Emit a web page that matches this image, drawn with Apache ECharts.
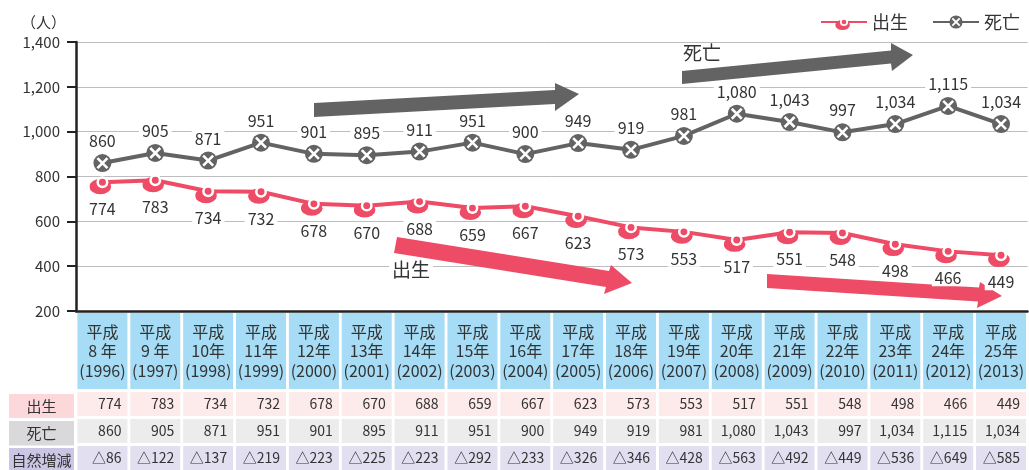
<!DOCTYPE html>
<html lang="ja">
<head>
<meta charset="UTF-8">
<title>出生・死亡の推移</title>
<script src="https://cdn.jsdelivr.net/npm/echarts@6/dist/echarts.min.js"></script>
<style>
  html, body { margin: 0; padding: 0; background: #fff; }
  #chart { width: 1029px; height: 470px; }
</style>
</head>
<body>
<div id="chart"></div>
<script>
// 和暦・西暦
var heiseiYears = ['8 年', '9 年', '10年', '11年', '12年', '13年', '14年', '15年', '16年',
  '17年', '18年', '19年', '20年', '21年', '22年', '23年', '24年', '25年'];
var westernYears = [1996, 1997, 1998, 1999, 2000, 2001, 2002, 2003, 2004,
  2005, 2006, 2007, 2008, 2009, 2010, 2011, 2012, 2013];

// 出生・死亡・自然増減（人）
var births = [774, 783, 734, 732, 678, 670, 688, 659, 667, 623, 573, 553, 517, 551, 548, 498, 466, 449];
var deaths = [860, 905, 871, 951, 901, 895, 911, 951, 900, 949, 919, 981, 1080, 1043, 997, 1034, 1115, 1034];
var naturalDecrease = [86, 122, 137, 219, 223, 225, 223, 292, 233, 326, 346, 428, 563, 492, 449, 536, 649, 585];

var yTicks = { min: 200, max: 1400, step: 200 };

var PINK = '#ee4b66';
var GRAY = '#636363';
var TXT = '#333';
var FONT = '"Noto Sans CJK JP", "Noto Sans", sans-serif';

var categories = heiseiYears.map(function (h, i) {
  return '平成\n' + h + '\n(' + westernYears[i] + ')';
});

function fmt(n) { return n.toLocaleString('en-US'); }

// マーカー（SVG）
var birthSvg = '<svg xmlns="http://www.w3.org/2000/svg" width="24" height="24" viewBox="0 0 24 24">' +
  '<ellipse cx="10" cy="16" rx="10" ry="7" fill="' + PINK + '"/>' +
  '<circle cx="12" cy="12" r="5.5" fill="#fff"/>' +
  '<circle cx="12" cy="12" r="3.2" fill="' + PINK + '"/></svg>';
var deathSvg = '<svg xmlns="http://www.w3.org/2000/svg" width="24" height="24" viewBox="0 0 24 24">' +
  '<circle cx="12" cy="12" r="9" fill="' + GRAY + '"/>' +
  '<path d="M7 7 L17 17 M17 7 L7 17" stroke="#fff" stroke-width="2.6"/></svg>';
var birthSymbol = 'image://data:image/svg+xml;charset=utf-8,' + encodeURIComponent(birthSvg);
var deathSymbol = 'image://data:image/svg+xml;charset=utf-8,' + encodeURIComponent(deathSvg);

// 表の行（下段）
function tableAxis(values, margin, bg, prefix) {
  return {
    type: 'category',
    position: 'bottom',
    data: categories,
    axisLine: { show: false },
    axisTick: { show: false },
    splitLine: { show: false },
    axisLabel: {
      interval: 0,
      margin: margin,
      backgroundColor: bg,
      padding: [4, 6, 4, 0],
      formatter: function (v, i) { return '{v|' + prefix + fmt(values[i]) + '}'; },
      rich: {
        v: { width: 44, align: 'right', fontSize: 14, lineHeight: 16, color: TXT, fontFamily: FONT }
      }
    }
  };
}

function rowLabel(text, y, h, bg) {
  return {
    type: 'group',
    children: [
      { type: 'rect', shape: { x: 9, y: y, width: 65, height: h }, style: { fill: bg } },
      { type: 'text', x: 41.5, y: y + h / 2, style: { text: text, fill: TXT, font: '15px ' + FONT, align: 'center', verticalAlign: 'middle' } }
    ]
  };
}

var chart = echarts.init(document.getElementById('chart'));

var option = {
  animation: false,
  textStyle: { fontFamily: FONT, color: TXT },
  grid: { left: 76, right: 0, top: 42, bottom: 157, containLabel: false },
  legend: {
    right: 4,
    top: 8,
    itemWidth: 46,
    itemHeight: 22,
    itemGap: 24,
    textStyle: { fontSize: 18, color: TXT, fontFamily: FONT },
    data: ['出生', '死亡']
  },
  xAxis: [
    {
      type: 'category',
      position: 'bottom',
      data: categories,
      boundaryGap: true,
      axisLine: { show: true, lineStyle: { color: '#222', width: 2.5 } },
      axisTick: { show: false },
      splitLine: { show: false },
      axisLabel: {
        interval: 0,
        margin: 2,
        width: 50,
        height: 58.5,
        padding: [9, 0, 8.5, 0],
        backgroundColor: '#a6dcf5',
        fontSize: 16,
        lineHeight: 19.5,
        color: TXT,
        align: 'center'
      }
    },
    tableAxis(births, 81, '#fdeaea', ''),
    tableAxis(deaths, 108, '#ececec', ''),
    tableAxis(naturalDecrease, 135, '#e2dff0', '△')
  ],
  yAxis: {
    type: 'value',
    min: yTicks.min,
    max: yTicks.max,
    interval: yTicks.step,
    name: '（人）',
    nameLocation: 'end',
    nameGap: 20,
    nameTextStyle: { fontSize: 15, color: TXT, align: 'right', verticalAlign: 'middle', padding: [0, 10, 0, 0] },
    axisLine: { show: true, lineStyle: { color: '#222', width: 2.5 } },
    axisTick: { show: true, inside: false, length: 9, lineStyle: { color: '#222', width: 2 } },
    axisLabel: { margin: 16, fontSize: 15, color: TXT, formatter: function (v) { return fmt(v); } },
    splitLine: { show: true, lineStyle: { color: '#bdbdbd', width: 1 } }
  },
  series: [
    {
      name: '出生',
      type: 'line',
      data: births,
      symbol: birthSymbol,
      symbolSize: 26,
      showAllSymbol: true,
      lineStyle: { color: PINK, width: 4 },
      itemStyle: { color: PINK },
      z: 3,
      label: {
        show: true,
        position: 'bottom',
        distance: 6,
        fontSize: 16,
        color: TXT,
        backgroundColor: '#fff',
        padding: [0, 3],
        formatter: function (p) { return fmt(p.value); }
      }
    },
    {
      name: '死亡',
      type: 'line',
      data: deaths,
      symbol: deathSymbol,
      symbolSize: 24,
      showAllSymbol: true,
      lineStyle: { color: GRAY, width: 4 },
      itemStyle: { color: GRAY },
      z: 3,
      label: {
        show: true,
        position: 'top',
        distance: 2,
        fontSize: 16,
        color: TXT,
        backgroundColor: '#fff',
        padding: [0, 3],
        formatter: function (p) { return fmt(p.value); }
      }
    }
  ],
  graphic: [
    // 傾向を示す矢印
    { type: 'polygon', z: 2, shape: { points: [[314, 103], [314, 117], [555, 104], [555, 111], [579, 94], [555, 83], [555, 90]] }, style: { fill: GRAY } },
    { type: 'polygon', z: 2, shape: { points: [[682, 71], [682, 84], [891, 63.5], [892, 71], [913, 55], [891, 43], [891, 50.5]] }, style: { fill: GRAY } },
    { type: 'text', z: 2, x: 683, y: 53, style: { text: '死亡', fill: TXT, font: '19px ' + FONT, verticalAlign: 'middle' } },
    { type: 'polygon', z: 2, shape: { points: [[397, 237], [394, 253], [606, 287], [604, 294], [632, 283], [611, 265], [609, 271]] }, style: { fill: PINK } },
    { type: 'polygon', z: 2, shape: { points: [[767, 274], [767, 288], [978, 301.5], [977, 308], [1002, 296], [980, 282], [979, 287.5]] }, style: { fill: PINK } },
    { type: 'text', z: 2, x: 411, y: 270, style: { text: '出生', fill: TXT, font: '19px ' + FONT, align: 'center', verticalAlign: 'middle', backgroundColor: '#fff', padding: [0, 3] } },
    // 表の見出し
    rowLabel('出生', 394, 24, '#fcd8da'),
    rowLabel('死亡', 421, 24.5, '#d9d9db'),
    rowLabel('自然増減', 448, 24, '#cbc6e4')
  ]
};

chart.setOption(option);
</script>
</body>
</html>
